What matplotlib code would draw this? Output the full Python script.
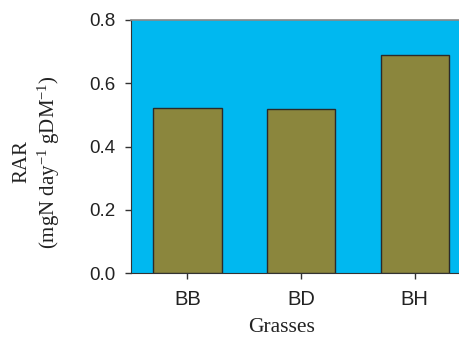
import matplotlib
matplotlib.use("Agg")
import matplotlib.pyplot as plt
import numpy as np

categories = ["BB", "BD", "BH"]
values = [0.521, 0.519, 0.688]
yticks = [0.0, 0.2, 0.4, 0.6, 0.8]

plt.rcParams['mathtext.fontset'] = 'custom'
plt.rcParams['mathtext.rm'] = 'Liberation Serif'
plt.rcParams['mathtext.default'] = 'regular'

fig = plt.figure(figsize=(4.59, 3.39), dpi=100)
ax = fig.add_axes([130.7/459, 66/339, 1 - 130.7/459, 253/339])
ax.set_facecolor('#00B8F0')

x = np.arange(len(categories))
ax.bar(x, values, width=0.6, color='#8B863D', edgecolor='#2a2a2a', linewidth=1.0, zorder=3)

ax.set_xlim(-0.5, 2.39)
ax.set_ylim(0, 0.8)
ax.set_yticks(yticks)
ax.set_yticklabels([f"{v:.1f}" for v in yticks], fontsize=13.5, family='Liberation Sans', color='#222222')
ax.set_xticks(x)
ax.set_xticklabels(categories, fontsize=14.5, family='Liberation Sans', color='#222222')
ax.tick_params(axis='both', direction='out', length=4, width=1, color='#333333')
ax.tick_params(axis='y', pad=7)
ax.tick_params(axis='x', pad=8)

ax.spines['right'].set_visible(False)
ax.spines['top'].set_color('#888888')
ax.spines['top'].set_linewidth(1.2)
ax.spines['left'].set_color('#333333')
ax.spines['bottom'].set_color('#333333')

fig.text(37.5/459, 1 - 162/339, "RAR\n(mgN day$^{-1}$ gDM$^{-1}$)", rotation=90,
         ha='center', va='center', multialignment='center',
         family='Liberation Serif', fontsize=15, color='#222222', linespacing=1.25)
fig.text(281.5/459, 1 - 328/339, "Grasses", ha='center', va='center',
         family='Liberation Serif', fontsize=15.5, color='#222222')

fig.savefig("out.png", dpi=100)
